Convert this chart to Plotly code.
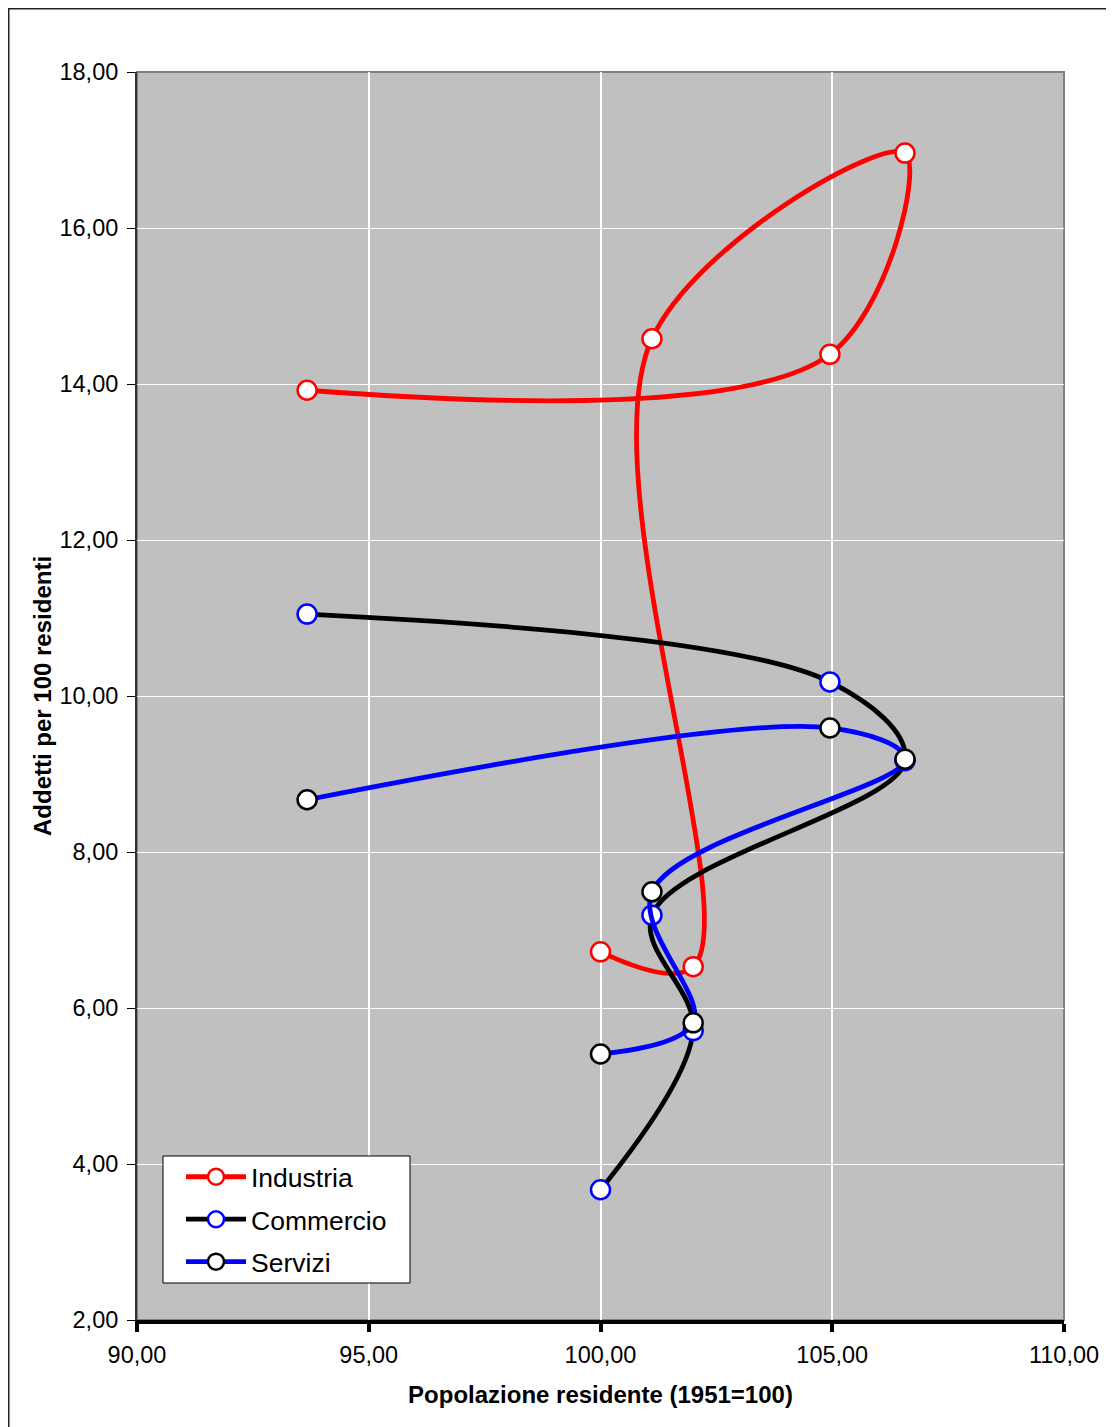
import plotly.graph_objects as go

# Data
pop_industria = [100.00, 102.00, 101.11, 106.57, 104.95, 93.67]
val_industria = [6.72, 6.53, 14.58, 16.96, 14.38, 13.92]

pop_commercio = [100.00, 102.00, 101.11, 106.57, 104.95, 93.67]
val_commercio = [3.67, 5.71, 7.19, 9.17, 10.18, 11.05]

pop_servizi = [100.00, 102.00, 101.11, 106.57, 104.95, 93.67]
val_servizi = [5.41, 5.81, 7.49, 9.19, 9.59, 8.67]

series = [
    ("Industria", pop_industria, val_industria, "#FF0000", "#FF0000"),
    ("Commercio", pop_commercio, val_commercio, "#000000", "#0000FF"),
    ("Servizi", pop_servizi, val_servizi, "#0000FF", "#000000"),
]

x_ticks = [90, 95, 100, 105, 110]
y_ticks = [2, 4, 6, 8, 10, 12, 14, 16, 18]

FONT = "Liberation Sans, Arial, sans-serif"

fig = go.Figure()
for name, xs, ys, lc, mc in series:
    fig.add_trace(go.Scatter(
        x=xs, y=ys, name=name, mode="lines+markers", legendgroup=name,
        line=dict(color=lc, width=4.8, shape="spline", smoothing=1.0),
        marker=dict(symbol="circle", size=19, color="white",
                    line=dict(color=mc, width=2.5)),
    ))

# page has an 8px body margin; figure coordinates below are page - 8
W, H = 1106, 1419
L, R, T, B = 129, 50, 64, 107
pw, ph = W - L - R, H - T - B

def px_x(p):
    return (p - L) / pw

def px_y(p):
    return (H - B - p) / ph

fig.update_layout(
    width=W, height=H,
    margin=dict(l=L, r=R, t=T, b=B),
    paper_bgcolor="white",
    plot_bgcolor="#C0C0C0",
    separators=",.",
    font=dict(family=FONT, size=20, color="black"),
    showlegend=True,
    legend=dict(
        x=px_x(173), y=px_y(1145), xanchor="left", yanchor="top",
        bgcolor="rgba(0,0,0,0)", borderwidth=0,
        font=dict(family=FONT, size=26.5, color="black"),
        itemwidth=60, traceorder="grouped", tracegroupgap=5,
    ),
    shapes=[
        dict(type="rect", xref="paper", yref="paper", x0=0, x1=1, y0=0, y1=1,
             line=dict(color="#808080", width=2), fillcolor="rgba(0,0,0,0)", layer="below"),
        dict(type="rect", xref="paper", yref="paper",
             x0=px_x(155), x1=px_x(402), y0=px_y(1275), y1=px_y(1148),
             line=dict(color="black", width=1), fillcolor="white", layer="above"),
        dict(type="rect", xref="paper", yref="paper",
             x0=px_x(0.75), x1=px_x(1130), y0=px_y(1440), y1=px_y(0.75),
             line=dict(color="#222222", width=1.5), fillcolor="rgba(0,0,0,0)"),
    ],
)

fig.update_xaxes(
    range=[90, 110], tickvals=x_ticks, tickformat=".2f",
    showgrid=True, gridcolor="white", gridwidth=2,
    zeroline=False,
    showline=True, linecolor="black", linewidth=4,
    ticks="outside", ticklen=8, tickwidth=4, tickcolor="black",
    ticklabelstandoff=3,
    tickfont=dict(family=FONT, size=23.5),
    title=dict(text="<b>Popolazione residente (1951=100)</b>",
               font=dict(family=FONT, size=24), standoff=20),
)
fig.update_yaxes(
    range=[2, 18], tickvals=y_ticks, tickformat=".2f",
    showgrid=True, gridcolor="white", gridwidth=1,
    zeroline=False,
    showline=True, linecolor="#333333", linewidth=2,
    ticks="outside", ticklen=8, tickwidth=1, tickcolor="black",
    ticklabelstandoff=4,
    tickfont=dict(family=FONT, size=23.5),
    title=dict(text="<b>Addetti per 100 residenti</b>",
               font=dict(family=FONT, size=24), standoff=1),
)

fig.write_html("out.html")
